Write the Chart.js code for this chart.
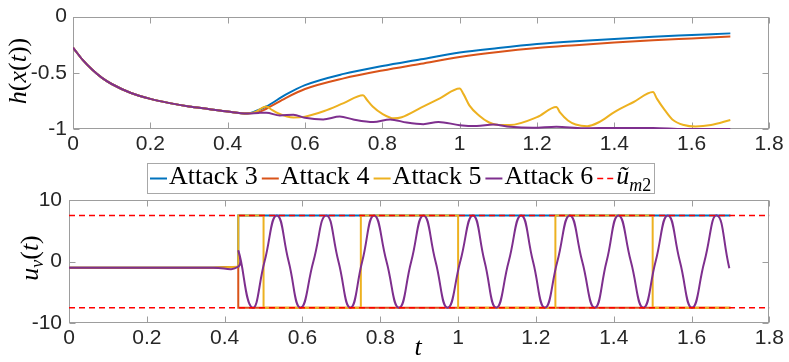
<!DOCTYPE html>
<html lang="en">
<head>
<meta charset="UTF-8">
<title>Attack responses</title>
<script src="https://cdn.jsdelivr.net/npm/chart.js"></script>
<style>
  body { margin: 0; background: #fff; }
  #wrap { position: relative; width: 789px; height: 362px; }
  #topChart { position: absolute; left: 0; top: 0; }
  #botChart { position: absolute; left: 0; top: 160px; }
</style>
</head>
<body>
<div id="wrap">
  <canvas id="topChart" width="789" height="160"></canvas>
  <canvas id="botChart" width="789" height="202"></canvas>
</div>

<script>
// MATLAB default line colours
const C3 = '#0072BD', C4 = '#D95319', C5 = '#EDB120', C6 = '#7E2F8E', CB = '#FF0000';

// ---- top panel: h(x(t)) ----
// common part before the attacks start
const tStart = [0, 0.025, 0.05, 0.075, 0.1, 0.15, 0.2, 0.25, 0.3, 0.35, 0.4, 0.45];
const hStart = [-0.276, -0.386, -0.474, -0.546, -0.6, -0.68, -0.732, -0.77, -0.8, -0.822, -0.845, -0.862];

const tAtk3 = [0.47, 0.5, 0.55, 0.6, 0.7, 0.8, 0.9, 1.0, 1.1, 1.2, 1.3, 1.4, 1.5, 1.6, 1.7];
const hAtk3 = [-0.845, -0.8, -0.695, -0.61, -0.51, -0.44, -0.38, -0.32, -0.28, -0.245, -0.22, -0.2, -0.18, -0.165, -0.15];

const tAtk4 = [0.48, 0.5, 0.55, 0.6, 0.7, 0.8, 0.9, 1.0, 1.1, 1.2, 1.3, 1.4, 1.5, 1.6, 1.7];
const hAtk4 = [-0.85, -0.82, -0.725, -0.645, -0.55, -0.48, -0.42, -0.36, -0.315, -0.28, -0.255, -0.232, -0.212, -0.195, -0.178];

const tAtk5 = [0.47, 0.5, 0.51, 0.53, 0.55, 0.57, 0.6, 0.65, 0.7, 0.75, 0.76, 0.775, 0.8, 0.83, 0.85, 0.9, 0.95, 1.0,
               1.01, 1.025, 1.05, 1.075, 1.1, 1.13, 1.2, 1.25, 1.26, 1.28, 1.3, 1.33, 1.36, 1.4, 1.45, 1.5,
               1.51, 1.53, 1.55, 1.58, 1.61, 1.65, 1.7];
const hAtk5 = [-0.85, -0.8, -0.82, -0.86, -0.885, -0.898, -0.89, -0.84, -0.77, -0.7, -0.74, -0.8, -0.865, -0.905, -0.895, -0.81, -0.725, -0.64,
               -0.69, -0.79, -0.88, -0.94, -0.965, -0.965, -0.895, -0.805, -0.855, -0.925, -0.96, -0.975, -0.94, -0.85, -0.76, -0.672,
               -0.73, -0.83, -0.915, -0.965, -0.978, -0.965, -0.92];

const tAtk6 = [0.48, 0.5, 0.535, 0.57, 0.6, 0.647, 0.69, 0.725, 0.777, 0.82, 0.863, 0.906, 0.945, 1.0, 1.044, 1.087,
               1.13, 1.19, 1.25, 1.32, 1.4, 1.5, 1.58, 1.7];
const hAtk6 = [-0.857, -0.855, -0.88, -0.873, -0.9, -0.915, -0.889, -0.915, -0.937, -0.915, -0.943, -0.957, -0.937, -0.966, -0.974, -0.96,
               -0.98, -0.989, -0.98, -0.994, -0.99, -0.99, -1.0, -1.0];

// ---- bottom panel: u_v(t) ----
const tPre = [0, 0.37, 0.435];
const uPre = [-1.0, -1.0, -0.85];

const tU3 = [0.435, 1.7];
const uU3 = [7.5, 7.5];
const tU4 = [0.435, 1.7];
const uU4 = [-7.5, -7.5];
const tU5 = [0.435, 0.5, 0.5, 0.75, 0.75, 1.0, 1.0, 1.25, 1.25, 1.5, 1.5, 1.7];
const uU5 = [7.5, 7.5, -7.5, -7.5, 7.5, 7.5, -7.5, -7.5, 7.5, 7.5, -7.5, -7.5];
const tU6 = [0.436, 0.471, 0.5025, 0.534, 0.5645, 0.595, 0.628, 0.661, 0.6925, 0.723, 0.7535, 0.784, 0.816, 0.848,
             0.8795, 0.911, 0.942, 0.973, 1.0055, 1.038, 1.068, 1.098, 1.13, 1.162, 1.1925, 1.223, 1.255, 1.287,
             1.319, 1.351, 1.3815, 1.412, 1.444, 1.476, 1.5075, 1.539, 1.57, 1.601, 1.633, 1.665, 1.697];
const uU6 = [1.6, -7.5, 0, 7.5, 0, -7.5, 0, 7.5, 0, -7.5, 0, 7.5, 0, -7.5,
             0, 7.5, 0, -7.5, 0, 7.5, 0, -7.5, 0, 7.5, 0, -7.5, 0, 7.5,
             0, -7.5, 0, 7.5, 0, -7.5, 0, 7.5, 0, -7.5, 0, 7.5, -1.1];

const tBound = [0, 1.8];
const uBoundHi = [7.5, 7.5];
const uBoundLo = [-7.5, -7.5];

// ticks
const xTicks = [0, 0.2, 0.4, 0.6, 0.8, 1, 1.2, 1.4, 1.6, 1.8];
const hTicks = [-1, -0.5, 0];
const uTicks = [-10, 0, 10];

const pts = (ts, ys) => ts.map((t, i) => ({ x: t, y: ys[i] }));

// draw a small run of text pieces (italic / subscript) like LaTeX labels
function drawRich(ctx, parts, x, y, size, align) {
  const fontOf = p => (p.it ? 'italic ' : '') + (p.sub ? Math.round(size * 0.7) : size) + 'px "Liberation Serif"';
  let w = 0;
  parts.forEach(p => { ctx.font = fontOf(p); w += ctx.measureText(p.s).width; });
  let cx = align === 'center' ? x - w / 2 : x;
  parts.forEach(p => {
    ctx.font = fontOf(p);
    ctx.fillText(p.s, cx, y + (p.sub ? size * 0.28 : 0));
    cx += ctx.measureText(p.s).width;
  });
  return w;
}

// box around the axes with inward tick marks (MATLAB look)
const axisBox = {
  id: 'axisBox',
  beforeDatasetsDraw(chart) {
    const { ctx, chartArea: a } = chart;
    const xs = chart.scales.x, ys = chart.scales.y;
    const L = Math.round(a.left) + 0.5, R = Math.round(a.right) - 0.5;
    const T = Math.round(a.top) + 0.5, B = Math.round(a.bottom) - 0.5;
    ctx.save();
    ctx.strokeStyle = '#9d9d9d';
    ctx.lineWidth = 1;
    ctx.strokeRect(L, T, R - L, B - T);
    ctx.beginPath();
    xs.ticks.forEach(t => {
      const p = Math.round(xs.getPixelForValue(t.value)) + 0.5;
      ctx.moveTo(p, B); ctx.lineTo(p, B - 6);
      ctx.moveTo(p, T); ctx.lineTo(p, T + 6);
    });
    ys.ticks.forEach(t => {
      const p = Math.round(ys.getPixelForValue(t.value)) + 0.5;
      ctx.moveTo(L, p); ctx.lineTo(L + 6, p);
      ctx.moveTo(R, p); ctx.lineTo(R - 6, p);
    });
    ctx.stroke();
    ctx.restore();
  }
};

// axis titles with subscripts
const richTitles = {
  id: 'richTitles',
  afterDraw(chart, args, opts) {
    const ctx = chart.ctx;
    (opts.items || []).forEach(it => {
      ctx.save();
      ctx.fillStyle = '#000';
      ctx.textBaseline = it.baseline || 'middle';
      ctx.translate(it.x, it.y);
      if (it.rot) ctx.rotate(it.rot);
      drawRich(ctx, it.parts, 0, 0, it.size, 'center');
      ctx.restore();
    });
  }
};

// legend in a bordered box, one row
const boxLegend = {
  id: 'boxLegend',
  afterDraw(chart, args, opts) {
    const ctx = chart.ctx;
    ctx.save();
    let x = opts.left + 3;
    const items = chart.data.datasets.filter(d => d.legendParts);
    items.forEach((d, i) => {
      ctx.strokeStyle = d.borderColor;
      ctx.lineWidth = d.borderWidth;
      ctx.setLineDash(d.borderDash || []);
      ctx.beginPath();
      ctx.moveTo(x, opts.lineY);
      ctx.lineTo(x + 17, opts.lineY);
      ctx.stroke();
      ctx.setLineDash([]);
      ctx.fillStyle = '#000';
      ctx.textBaseline = 'alphabetic';
      const w = drawRich(ctx, d.legendParts, x + 19, opts.baseY, opts.size, 'left');
      x += 19 + w + (i < items.length - 1 ? 4 : 3);
    });
    ctx.strokeStyle = '#a8a8a8';
    ctx.lineWidth = 1;
    ctx.strokeRect(opts.left + 0.5, opts.top + 0.5, Math.round(x - opts.left), opts.bottom - opts.top);
    ctx.restore();
  }
};

const tickFont = { family: '"Liberation Sans", Arial, sans-serif', size: 21, lineHeight: 1 };
const line = { pointRadius: 0, borderWidth: 2, fill: false };

function xScale(height) {
  return {
    type: 'linear', min: 0, max: 1.8,
    grid: { display: false, drawTicks: false }, border: { display: false },
    afterBuildTicks: s => { s.ticks = xTicks.map(v => ({ value: v })); },
    afterFit: s => { s.height = height; },
    ticks: { font: tickFont, color: '#262626', padding: 5, maxRotation: 0, autoSkip: false, callback: v => String(v) }
  };
}
function yScale(min, max, ticks, width, pad) {
  return {
    min: min, max: max,
    grid: { display: false, drawTicks: false }, border: { display: false },
    afterBuildTicks: s => { s.ticks = ticks.map(v => ({ value: v })); },
    afterFit: s => { s.width = width; },
    ticks: { font: tickFont, color: '#262626', padding: pad, callback: v => String(v) }
  };
}

new Chart(document.getElementById('topChart'), {
  type: 'line',
  data: {
    datasets: [
      { ...line, label: 'Attack 3', data: pts(tStart.concat(tAtk3), hStart.concat(hAtk3)), borderColor: C3, cubicInterpolationMode: 'monotone', order: 4 },
      { ...line, label: 'Attack 4', data: pts(tStart.concat(tAtk4), hStart.concat(hAtk4)), borderColor: C4, cubicInterpolationMode: 'monotone', order: 3 },
      { ...line, label: 'Attack 5', data: pts(tStart.concat(tAtk5), hStart.concat(hAtk5)), borderColor: C5, cubicInterpolationMode: 'monotone', order: 2 },
      { ...line, label: 'Attack 6', data: pts(tStart.concat(tAtk6), hStart.concat(hAtk6)), borderColor: C6, cubicInterpolationMode: 'monotone', order: 1 }
    ]
  },
  options: {
    responsive: false,
    animation: false,
    layout: { padding: { left: 0, right: 20, top: 12, bottom: 0 } },
    scales: { x: xScale(31), y: yScale(-1, 0, hTicks, 73, 6) },
    plugins: {
      legend: { display: false },
      tooltip: { enabled: false },
      richTitles: { items: [
        { parts: [{ s: 'h', it: 1 }, { s: '(' }, { s: 'x', it: 1 }, { s: '(' }, { s: 't', it: 1 }, { s: '))' }],
          x: 19, y: 71, rot: -Math.PI / 2, size: 26 }
      ] }
    }
  },
  plugins: [axisBox, richTitles]
});

new Chart(document.getElementById('botChart'), {
  type: 'line',
  data: {
    datasets: [
      { ...line, label: 'Attack 3', legendParts: [{ s: 'Attack 3' }], data: pts(tPre.concat(tU3), uPre.concat(uU3)), borderColor: C3, order: 5 },
      { ...line, label: 'Attack 4', legendParts: [{ s: 'Attack 4' }], data: pts(tPre.concat(tU4), uPre.concat(uU4)), borderColor: C4, order: 4 },
      { ...line, label: 'Attack 5', legendParts: [{ s: 'Attack 5' }], data: pts(tPre.concat(tU5), uPre.concat(uU5)), borderColor: C5, order: 3 },
      { ...line, label: 'Attack 6', legendParts: [{ s: 'Attack 6' }], data: pts(tPre.concat(tU6), uPre.concat(uU6)), borderColor: C6, tension: 0.5, order: 2 },
      { ...line, label: 'u~ m2', legendParts: [{ s: 'ũ', it: 1 }, { s: 'm', it: 1, sub: 1 }, { s: '2', sub: 1 }],
        data: pts(tBound, uBoundHi), borderColor: CB, borderWidth: 1.5, borderDash: [6, 4], order: 0 },
      { ...line, label: 'u~ m2 lower', data: pts(tBound, uBoundLo), borderColor: CB, borderWidth: 1.5, borderDash: [6, 4], order: 0 }
    ]
  },
  options: {
    responsive: false,
    animation: false,
    layout: { padding: { left: 0, right: 16, top: 40, bottom: 0 } },
    scales: { x: xScale(39), y: yScale(-10, 10, uTicks, 69, 7) },
    plugins: {
      legend: { display: false },
      tooltip: { enabled: false },
      boxLegend: { left: 147, top: 3, bottom: 33, lineY: 18.5, baseY: 24, size: 26 },
      richTitles: { items: [
        { parts: [{ s: 'u', it: 1 }, { s: 'v', it: 1, sub: 1 }, { s: '(' }, { s: 't', it: 1 }, { s: ')' }],
          x: 31, y: 98, rot: -Math.PI / 2, size: 26 },
        { parts: [{ s: 't', it: 1 }], x: 418, y: 195, size: 26, baseline: 'alphabetic' }
      ] }
    }
  },
  plugins: [axisBox, richTitles, boxLegend]
});
</script>
</body>
</html>
